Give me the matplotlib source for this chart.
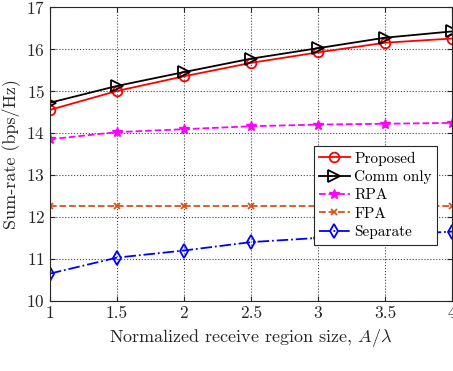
import numpy as np
import matplotlib
matplotlib.use("Agg")
import matplotlib.pyplot as plt

plt.rcParams['font.family'] = 'serif'
plt.rcParams['font.serif'] = ['cmr10', 'DejaVu Serif']
plt.rcParams['mathtext.fontset'] = 'cm'
plt.rcParams['axes.formatter.use_mathtext'] = True

# Data
x = [1, 1.5, 2, 2.5, 3, 3.5, 4]
proposed = [14.55, 15.0, 15.35, 15.67, 15.92, 16.15, 16.25]
comm_only = [14.72, 15.12, 15.45, 15.77, 16.02, 16.27, 16.42]
rpa = [13.85, 14.02, 14.09, 14.16, 14.20, 14.22, 14.24]
fpa = [12.25, 12.25, 12.25, 12.25, 12.25, 12.25, 12.25]
separate = [10.65, 11.03, 11.20, 11.40, 11.50, 11.57, 11.65]

fig = plt.figure(figsize=(4.53, 3.71), dpi=100)
ax = fig.add_axes([0.110, 0.189, 0.888, 0.792])

ax.plot(x, proposed, color='red', lw=1.3, marker='o', ms=7, mfc='none', mew=1.3, label='Proposed')
ax.plot(x, comm_only, color='black', lw=1.3, marker='>', ms=8, mfc='none', mew=1.3, label='Comm only')
ax.plot(x, rpa, color='#FF00FF', lw=1.3, ls='--', marker='*', ms=7, label='RPA')
ax.plot(x, fpa, color='#D95319', lw=1.3, ls='--', marker='x', ms=5, mew=1.3, label='FPA')
ax.plot(x, separate, color='blue', lw=1.3, ls='-.', marker='d', ms=7, mfc='none', mew=1.3, label='Separate')

ax.set_xlim(1, 4)
ax.set_ylim(10, 17)
ax.set_xticks(x)
ax.set_xticklabels(['1', '1.5', '2', '2.5', '3', '3.5', '4'])
ax.set_yticks(np.arange(10, 18, 1))
ax.grid(True, ls=':', color='#444444', lw=0.8)
ax.tick_params(direction='in', labelsize=12.5, colors='#262626', top=True, right=True)
for s in ax.spines.values():
    s.set_color('#262626')

ax.set_xlabel(r'Normalized receive region size, $A/\lambda$', fontsize=13, color='#262626')
ax.set_ylabel('Sum-rate (bps/Hz)', fontsize=13, color='#262626')

leg = ax.legend(loc='upper right', bbox_to_anchor=(0.963, 0.527), borderaxespad=0, fontsize=11,
                fancybox=False, edgecolor='#262626', framealpha=1,
                handlelength=2.0, borderpad=0.35, labelspacing=0.3, handletextpad=0.3)
leg.get_frame().set_linewidth(0.8)

fig.savefig('out.png', dpi=100)
